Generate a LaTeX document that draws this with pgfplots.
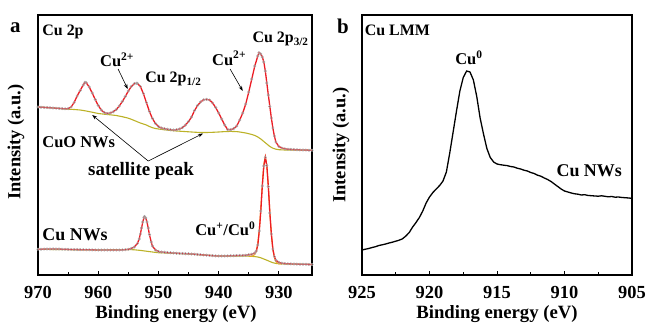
\documentclass[border=0pt]{standalone}
\usepackage{fontspec}
\setmainfont{Liberation Serif}
\usepackage{pgfplots}
\usepackage{pgfplotstable}
\pgfplotsset{compat=1.18}
\usetikzlibrary{arrows.meta}

\definecolor{fitred}{RGB}{237,28,36}
\definecolor{baseol}{RGB}{188,178,40}
\definecolor{comporange}{RGB}{250,165,30}
\definecolor{ptgray}{RGB}{165,165,165}

% CuO NWs, Cu 2p (fit / data)
\pgfplotstableread{
E v
970.0 168.0
969.5 167.8
969.0 167.6
968.5 167.4
968.0 167.3
967.5 167.0
967.0 166.8
966.5 166.6
966.0 166.4
965.5 166.2
965.0 166.3
964.5 168.0
964.0 172.5
963.5 179.0
963.0 184.5
962.5 190.0
962.2 192.7
962.0 192.3
961.5 188.0
961.0 182.0
960.5 175.5
960.0 169.5
959.5 165.0
959.0 162.5
958.5 161.6
958.0 162.0
957.5 163.2
957.0 165.5
956.5 169.0
956.0 173.5
955.5 178.5
955.0 184.0
954.5 188.5
954.0 191.3
953.6 191.8
953.5 191.6
953.0 188.5
952.5 181.5
952.0 172.5
951.5 163.5
951.0 156.5
950.5 151.5
950.0 148.5
949.5 147.0
949.0 146.3
948.5 145.7
948.0 145.3
947.5 145.0
947.0 145.2
946.5 146.0
946.0 147.5
945.5 150.0
945.0 153.5
944.5 158.0
944.0 164.5
943.5 169.5
943.0 173.0
942.5 175.2
942.0 175.7
941.5 175.0
941.0 172.0
940.5 167.5
940.0 162.0
939.5 156.0
939.0 150.0
938.5 145.5
938.0 145.3
937.5 146.5
937.0 149.0
936.5 155.0
936.0 162.0
935.5 171.0
935.0 183.0
934.5 196.0
934.0 209.0
933.5 219.0
933.3 222.3
933.0 221.0
932.75 218.0
932.5 213.0
932.25 204.0
932.0 192.0
931.75 180.0
931.5 168.5
931.25 157.0
931.0 147.0
930.75 139.0
930.5 133.0
930.0 128.5
929.5 127.0
929.0 126.2
928.5 125.8
928.0 125.6
927.5 125.4
927.0 125.3
926.5 125.1
926.0 125.0
925.5 124.9
925.0 124.8
924.5 124.8
}\cuofit

\pgfplotstableread{
E v
970.0 168.0
968.0 167.3
966.0 166.3
965.0 165.8
964.0 165.5
963.0 165.0
962.0 164.0
961.0 162.8
960.0 161.5
959.0 160.8
958.0 160.2
957.0 159.5
956.0 158.3
955.0 156.8
954.5 155.7
954.0 154.5
953.5 153.2
953.0 152.0
952.5 151.0
952.0 150.0
951.5 148.5
951.0 147.3
950.5 146.5
950.0 146.0
949.0 145.2
948.0 144.6
947.0 144.0
946.0 143.6
945.0 143.2
944.0 142.8
943.0 142.5
942.0 142.5
941.0 142.7
940.0 143.0
939.0 143.4
938.0 143.6
937.0 143.4
936.5 143.0
936.0 142.5
935.5 142.0
935.0 141.3
934.5 140.5
934.0 139.5
933.5 138.0
933.0 136.0
932.5 133.5
932.0 131.0
931.5 128.5
931.0 126.8
930.5 125.8
930.0 125.3
929.0 125.0
927.0 124.9
924.5 124.8
}\cuobase

% Cu NWs, Cu 2p
\pgfplotstableread{
E v
970.0 25.7
969.5 25.8
969.0 25.9
968.5 26.0
968.0 26.0
967.5 26.1
967.0 26.0
966.5 26.0
966.0 25.8
965.5 25.7
965.0 25.6
964.5 25.5
964.0 25.4
963.5 25.4
963.0 25.3
962.5 25.3
962.0 25.2
961.5 25.2
961.0 25.1
960.5 25.1
960.0 25.0
959.5 25.0
959.0 25.0
958.5 24.9
958.0 24.9
957.5 24.9
957.0 24.9
956.5 25.0
956.0 25.1
955.5 25.3
955.0 25.7
954.5 26.5
954.0 28.0
953.5 31.5
953.2 36.0
953.0 41.0
952.8 47.0
952.6 53.0
952.4 57.5
952.3 58.5
952.1 57.0
951.9 53.0
951.7 47.0
951.5 40.5
951.2 33.0
951.0 29.0
950.5 25.0
950.0 23.5
949.5 23.0
949.0 22.7
948.5 22.4
948.0 22.2
947.5 22.0
947.0 21.8
946.5 21.6
946.0 21.5
945.5 21.3
945.0 21.2
944.5 21.0
944.0 20.8
943.5 20.5
943.0 20.3
942.5 20.0
942.0 19.8
941.5 19.5
941.0 19.3
940.5 19.1
940.0 19.0
939.5 19.0
939.0 19.0
938.5 19.1
938.0 19.2
937.5 19.3
937.0 19.4
936.5 19.5
936.0 19.6
935.5 19.8
935.0 20.2
934.5 20.8
934.0 22.0
933.75 24.0
933.5 30.0
933.25 44.0
933.0 64.0
932.75 89.0
932.5 109.0
932.25 117.7
932.0 109.5
931.75 88.5
931.5 62.0
931.25 41.0
931.0 26.0
930.75 18.5
930.5 14.8
930.0 12.6
929.5 11.8
929.0 11.4
928.5 11.2
928.0 11.1
927.5 11.0
927.0 10.9
926.5 10.8
926.0 10.7
925.5 10.7
925.0 10.6
924.5 10.5
}\cufit

\pgfplotstableread{
E v
970.0 25.7
960.0 25.0
955.0 25.5
954.0 25.2
953.0 24.6
952.0 23.8
951.0 23.0
950.5 22.6
950.0 22.3
948.0 21.8
945.0 21.0
942.0 19.8
940.0 19.0
937.0 19.0
935.0 18.8
934.0 18.4
933.5 18.0
933.0 17.2
932.5 16.0
932.0 14.8
931.5 13.5
931.0 12.3
930.5 11.6
930.0 11.2
929.0 11.0
925.0 10.6
924.5 10.5
}\cubase

\pgfplotstableread{
E v
935.0 18.8
934.5 18.8
934.0 20.4
933.75 23.7
933.5 31.5
933.25 45.6
933.0 66.5
932.75 90.9
932.5 110.7
932.25 118.1
932.0 109.5
931.75 88.4
931.5 62.8
931.25 40.9
931.0 25.8
930.75 17.4
930.5 13.6
930.25 12.0
930.0 11.2
929.5 11.0
}\cucomp

% Cu LMM
\pgfplotstableread{
E v
925.0 25.0
924.75 25.8
924.5 26.5
924.25 27.5
924.0 28.3
923.75 29.5
923.5 30.2
923.25 31.0
923.0 32.0
922.75 32.8
922.5 33.8
922.25 34.8
922.0 36.2
921.75 39.0
921.5 42.5
921.25 48.0
921.0 52.5
920.75 57.5
920.5 64.0
920.25 72.0
920.0 78.0
919.75 82.5
919.5 86.0
919.25 89.5
919.0 94.0
918.75 103.0
918.5 122.0
918.25 143.0
918.0 164.0
917.75 184.0
917.5 197.5
917.25 204.0
917.0 203.0
916.75 195.0
916.5 178.5
916.25 157.0
916.0 141.0
915.75 126.5
915.5 117.5
915.25 113.0
915.0 111.0
914.75 110.3
914.5 109.8
914.25 109.4
914.0 108.5
913.75 108.0
913.5 106.8
913.25 106.0
913.0 104.8
912.75 104.0
912.5 102.5
912.25 101.5
912.0 99.8
911.75 98.8
911.5 97.0
911.25 95.5
911.0 93.5
910.75 91.0
910.5 88.5
910.25 86.0
910.0 84.0
909.75 83.0
909.5 82.0
909.25 81.2
909.0 80.8
908.75 80.0
908.5 80.3
908.25 79.5
908.0 79.3
907.75 79.0
907.5 78.8
907.25 79.2
907.0 78.7
906.75 78.2
906.5 78.5
906.25 77.8
906.0 78.0
905.75 77.5
905.5 77.3
905.25 77.0
905.0 76.7
}\lmm

\pgfplotsset{
  myax/.style={
    scale only axis,
    height=260bp,
    ymin=0, ymax=260,
    ytick=\empty,
    x dir=reverse,
    axis line style={line width=1.1bp},
    tick align=inside,
    xtick pos=left,
    major tick length=3.5bp,
    minor tick length=3bp,
    minor x tick num=1,
    every tick/.style={black, line width=0.9bp},
    /pgf/number format/assume math mode=true,
    xticklabel style={font=\fontsize{18.5}{20}\selectfont\bfseries, anchor=base, yshift=-23.3bp},
    anchor=south west,
  },
}

\begin{document}
\begin{tikzpicture}[font=\bfseries]
\useasboundingbox (0,0) rectangle (648bp,324bp);

% ---------- panel a ----------
\begin{axis}[myax, at={(38bp,49bp)}, width=274bp,
  xmin=924.5, xmax=970, xtick={930,940,950,960,970}]
\addplot[baseol, line width=1.1bp] table[x=E,y=v]{\cuobase};
\addplot[fitred, line width=1.3bp] table[x=E,y=v]{\cuofit};
\addplot[only marks, mark=o, mark size=1.25bp, ptgray, mark options={line width=0.5bp}] table[x=E,y=v]{\cuofit};
\addplot[baseol, line width=1.1bp] table[x=E,y=v]{\cubase};
\addplot[comporange, line width=1.1bp] table[x=E,y=v]{\cucomp};
\addplot[fitred, line width=1.3bp] table[x=E,y=v]{\cufit};
\addplot[only marks, mark=o, mark size=1.25bp, ptgray, mark options={line width=0.5bp}] table[x=E,y=v]{\cufit};

\node[anchor=base west, inner sep=0pt, font=\fontsize{16}{18}\selectfont\bfseries] at (axis cs:969.3,240) {Cu 2p};
\node[anchor=base west, inner sep=0pt, font=\fontsize{16.5}{19}\selectfont\bfseries] at (axis cs:959.7,208.3) {Cu\textsuperscript{2+}};
\node[anchor=base west, inner sep=0pt, font=\fontsize{16}{19}\selectfont\bfseries] at (axis cs:952.2,192.3) {Cu 2p\textsubscript{1/2}};
\node[anchor=base west, inner sep=0pt, font=\fontsize{16.5}{19}\selectfont\bfseries] at (axis cs:941.1,210) {Cu\textsuperscript{2+}};
\node[anchor=base west, inner sep=0pt, font=\fontsize{16}{19}\selectfont\bfseries] at (axis cs:934.4,232.3) {Cu 2p\textsubscript{3/2}};
\node[anchor=base west, inner sep=0pt, font=\fontsize{16.5}{19}\selectfont\bfseries] at (axis cs:969.3,127.7) {CuO NWs};
\node[anchor=base west, inner sep=0pt, font=\fontsize{19}{20}\selectfont\bfseries] at (axis cs:961.7,100) {satellite peak};
\node[anchor=base west, inner sep=0pt, font=\fontsize{18}{20}\selectfont\bfseries] at (axis cs:969.3,34.3) {Cu NWs};
\node[anchor=base west, inner sep=0pt, font=\fontsize{16.5}{19}\selectfont\bfseries] at (axis cs:943.9,39.3) {Cu\textsuperscript{+}/Cu\textsuperscript{0}};

\draw[-{Stealth[length=5bp,width=3.5bp]}, line width=0.6bp] (axis cs:956.7,206) -- (axis cs:955.1,186);
\draw[-{Stealth[length=5bp,width=3.5bp]}, line width=0.6bp] (axis cs:938.1,206) -- (axis cs:936.0,184);
\draw[-{Stealth[length=5bp,width=3.5bp]}, line width=0.6bp] (axis cs:951.7,114) -- (axis cs:961.0,160);
\draw[-{Stealth[length=5bp,width=3.5bp]}, line width=0.6bp] (axis cs:951.7,114) -- (axis cs:942.6,141.5);
\end{axis}

% ---------- panel b ----------
\begin{axis}[myax, at={(362bp,49bp)}, width=270bp,
  xmin=905, xmax=925, xtick={905,910,915,920,925}]
\addplot[black, line width=1.3bp] table[x=E,y=v]{\lmm};
\node[anchor=base west, inner sep=0pt, font=\fontsize{16}{18}\selectfont\bfseries] at (axis cs:924.8,240) {Cu LMM};
\node[anchor=base west, inner sep=0pt, font=\fontsize{16.5}{19}\selectfont\bfseries] at (axis cs:918.1,210.7) {Cu\textsuperscript{0}};
\node[anchor=base west, inner sep=0pt, font=\fontsize{18}{20}\selectfont\bfseries] at (axis cs:910.6,99) {Cu NWs};
\end{axis}

% panel letters and axis titles
\node[anchor=base west, inner sep=0pt, font=\fontsize{21}{24}\selectfont\bfseries] at (10bp,291bp) {a};
\node[anchor=base west, inner sep=0pt, font=\fontsize{21}{24}\selectfont\bfseries] at (337bp,290bp) {b};
\node[rotate=90, font=\fontsize{18.5}{20}\selectfont\bfseries] at (16bp,182bp) {Intensity (a.u.)};
\node[rotate=90, font=\fontsize{18.5}{20}\selectfont\bfseries] at (341bp,179bp) {Intensity (a.u.)};
\node[anchor=base, inner sep=0pt, font=\fontsize{18.8}{20}\selectfont\bfseries] at (176bp,5.7bp) {Binding energy (eV)};
\node[anchor=base, inner sep=0pt, font=\fontsize{18.8}{20}\selectfont\bfseries] at (497bp,5.7bp) {Binding energy (eV)};
\end{tikzpicture}
\end{document}
